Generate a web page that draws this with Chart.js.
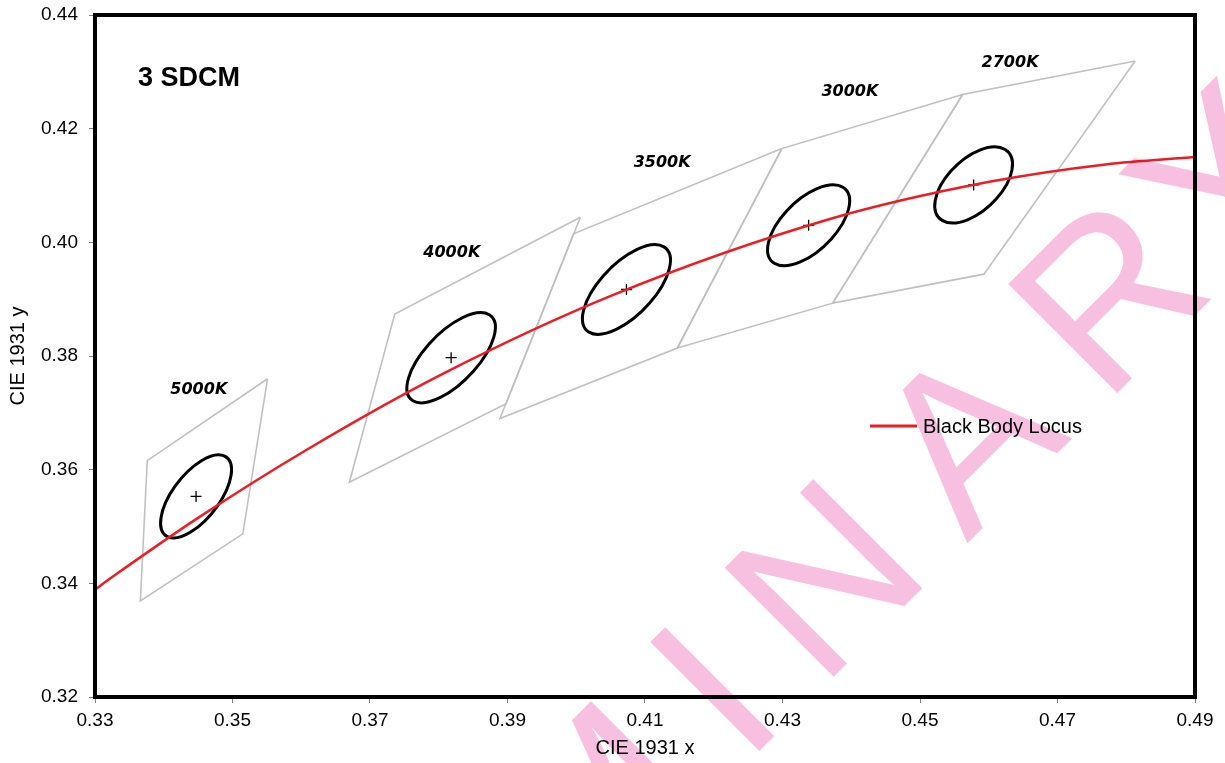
<!DOCTYPE html>
<html>
<head>
<meta charset="utf-8">
<title>3 SDCM</title>
<script src="https://cdn.jsdelivr.net/npm/chart.js@4.4.1/dist/chart.umd.min.js"></script>
<style>
  html, body { margin: 0; padding: 0; background: #fff; }
</style>
</head>
<body>
<canvas id="chart" width="1225" height="763"></canvas>
<script>
// ANSI nominal CCT bins, 3-step MacAdam ellipses and the Planckian locus

const cctLabels = ['5000K', '4000K', '3500K', '3000K', '2700K'];

// nominal centre of each bin (the + marks)
const centerX = [0.3447, 0.3818, 0.4073, 0.4338, 0.4578];
const centerY = [0.3553, 0.3797, 0.3917, 0.4030, 0.4101];

// quadrangle corners: top right, top left, bottom left, bottom right
const quadX = [
    [0.3551, 0.3376, 0.3366, 0.3515],
    [0.4006, 0.3736, 0.3670, 0.3898],
    [0.4299, 0.3996, 0.3889, 0.4147],
    [0.4562, 0.4299, 0.4147, 0.4373],
    [0.4813, 0.4562, 0.4373, 0.4593]
];
const quadY = [
    [0.3760, 0.3616, 0.3369, 0.3487],
    [0.4044, 0.3874, 0.3578, 0.3716],
    [0.4165, 0.4015, 0.3690, 0.3814],
    [0.4260, 0.4165, 0.3814, 0.3893],
    [0.4319, 0.4260, 0.3893, 0.3944]
];

// 3-step ellipses: semi axes and tilt (degrees)
const ellipseA = [0.00822, 0.00939, 0.00927, 0.00834, 0.00774];
const ellipseB = [0.00354, 0.00402, 0.00414, 0.00408, 0.00411];
const ellipseAngle = [59.62, 53.72, 54.00, 53.22, 53.70];

// black body locus
const locusX = [0.3300, 0.3325, 0.3451, 0.3608, 0.3805, 0.4053, 0.4369, 0.4599, 0.4770, 0.4900];
const locusY = [0.3389, 0.3411, 0.3516, 0.3635, 0.3768, 0.3907, 0.4041, 0.4106, 0.4137, 0.4150];

// axis ranges
const xRange = [0.33, 0.49];
const yRange = [0.32, 0.44];
const tickStep = 0.02;

// where the CCT names sit (data units)
const labelX = [0.3451, 0.3819, 0.4125, 0.4398, 0.4631];
const labelY = [0.3740, 0.3981, 0.4140, 0.4265, 0.4316];

const FONT = '"Liberation Sans", Arial, sans-serif';

function pts(xs, ys) {
    return xs.map((x, i) => ({ x: x, y: ys[i] }));
}

const datasets = [];

datasets.push({
    label: 'Black Body Locus',
    data: pts(locusX, locusY),
    showLine: true,
    borderColor: '#ee1c25',
    borderWidth: 2.5,
    pointRadius: 0,
    cubicInterpolationMode: 'monotone',
    order: 0
});

datasets.push({
    label: 'centre',
    data: pts(centerX, centerY),
    showLine: false,
    pointStyle: 'cross',
    pointRadius: 5.5,
    borderColor: '#000',
    borderWidth: 1.3,
    order: 1
});

cctLabels.forEach((name, i) => {
    const xs = quadX[i].concat([quadX[i][0]]);
    const ys = quadY[i].concat([quadY[i][0]]);
    datasets.push({
        label: name,
        data: pts(xs, ys),
        showLine: true,
        borderColor: '#c0c0c0',
        borderWidth: 1.6,
        pointRadius: 0,
        tension: 0,
        order: 5
    });
});

const overlay = {
    id: 'overlay',
    beforeDatasetsDraw(chart) {
        const { ctx } = chart;
        const xs = chart.scales.x, ys = chart.scales.y;
        const kx = (xs.getPixelForValue(xRange[1]) - xs.getPixelForValue(xRange[0])) / (xRange[1] - xRange[0]);
        const ky = (ys.getPixelForValue(yRange[1]) - ys.getPixelForValue(yRange[0])) / (yRange[1] - yRange[0]);
        ctx.save();
        ctx.strokeStyle = '#000';
        ctx.lineWidth = 3;
        centerX.forEach((cx, i) => {
            ctx.save();
            ctx.translate(xs.getPixelForValue(cx), ys.getPixelForValue(centerY[i]));
            ctx.scale(kx, ky);
            ctx.rotate(ellipseAngle[i] * Math.PI / 180);
            ctx.beginPath();
            ctx.ellipse(0, 0, ellipseA[i], ellipseB[i], 0, 0, Math.PI * 2);
            ctx.restore();
            ctx.stroke();
        });
        ctx.restore();
    },
    afterDatasetsDraw(chart) {
        const { ctx, chartArea: a } = chart;
        const xs = chart.scales.x, ys = chart.scales.y;
        ctx.save();

        // frame
        ctx.strokeStyle = '#000';
        ctx.lineWidth = 4;
        ctx.strokeRect(a.left, a.top, a.right - a.left, a.bottom - a.top);

        // title inside the plot
        ctx.fillStyle = '#000';
        ctx.textBaseline = 'middle';
        ctx.textAlign = 'left';
        ctx.font = 'bold 27px ' + FONT;
        ctx.fillText('3 SDCM', a.left + 43, a.top + 64);

        // CCT names
        ctx.textAlign = 'center';
        ctx.font = 'italic bold 16px "DejaVu Sans", sans-serif';
        cctLabels.forEach((name, i) => {
            ctx.fillText(name, xs.getPixelForValue(labelX[i]), ys.getPixelForValue(labelY[i]));
        });

        // legend for the locus
        const lx = a.left + 775, ly = a.top + 411;
        ctx.strokeStyle = '#ee1c25';
        ctx.lineWidth = 3;
        ctx.beginPath();
        ctx.moveTo(lx, ly);
        ctx.lineTo(lx + 47, ly);
        ctx.stroke();
        ctx.textAlign = 'left';
        ctx.font = '20px ' + FONT;
        ctx.fillText(chart.data.datasets[0].label, lx + 53, ly + 1);
        ctx.restore();
    },
    afterDraw(chart) {
        // PRELIMINARY watermark laid over everything
        const { ctx } = chart;
        ctx.save();
        ctx.globalCompositeOperation = 'multiply';
        ctx.fillStyle = '#f7bfe0';
        ctx.font = '224px ' + FONT;
        ctx.textBaseline = 'alphabetic';
        ctx.textAlign = 'left';
        ctx.rotate(-Math.PI / 4);
        const chars = 'PRELIMINARY'.split('');
        const gap = 45;
        const kern = { RY: -38 };
        let u = -14.6;
        for (let i = 5; i >= 0; i--) u -= ctx.measureText(chars[i]).width + gap;
        chars.forEach((c, i) => {
            if (i > 0) u += kern[chars[i - 1] + c] || 0;
            ctx.fillText(c, u, 1068);
            u += ctx.measureText(c).width + gap;
        });
        ctx.restore();
    }
};

function axisOptions(range, title, isX) {
    return {
        type: 'linear',
        min: range[0],
        max: range[1],
        ticks: {
            stepSize: tickStep,
            callback: v => v.toFixed(2),
            font: { family: FONT, size: 19 },
            color: '#000',
            padding: isX ? 6 : 11
        },
        grid: {
            drawOnChartArea: false,
            drawTicks: true,
            tickLength: 6,
            color: '#7f7f7f',
            lineWidth: 1
        },
        border: { display: false },
        title: {
            display: true,
            text: title,
            font: { family: FONT, size: 20 },
            color: '#000',
            padding: isX ? { top: 0, bottom: 3 } : { top: 6, bottom: 0 }
        },
        afterFit: s => {
            if (isX) s.height = 66; else s.width = 95;
            // keep the plot box where the reference has it
            s.paddingTop = 0;
            s.paddingBottom = 0;
            s.paddingLeft = 0;
            s.paddingRight = 0;
        }
    };
}

new Chart(document.getElementById('chart'), {
    type: 'scatter',
    data: { datasets: datasets },
    options: {
        responsive: false,
        animation: false,
        events: [],
        layout: { padding: { top: 15, right: 30, bottom: 0, left: 0 } },
        plugins: {
            legend: { display: false },
            tooltip: { enabled: false }
        },
        scales: {
            x: axisOptions(xRange, 'CIE 1931 x', true),
            y: axisOptions(yRange, 'CIE 1931 y', false)
        }
    },
    plugins: [overlay]
});
</script>
</body>
</html>
